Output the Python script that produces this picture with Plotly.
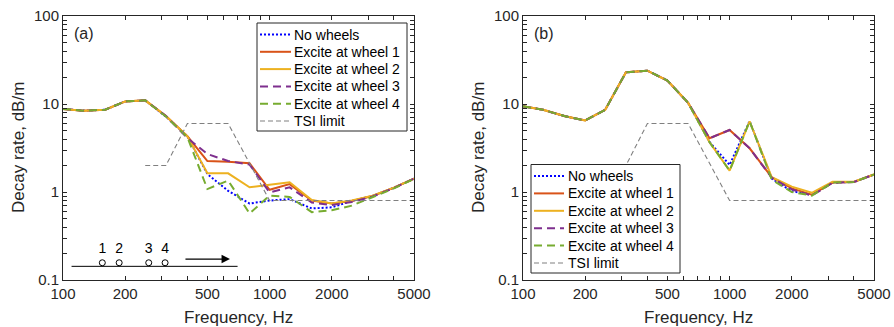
import plotly.graph_objects as go
import numpy as np

freq = [100, 125, 160, 200, 250, 315, 400, 500, 630, 800, 1000, 1250, 1600, 2000, 2500, 3150, 4000, 5000]

# Panel (a)
a_nowheels = [8.8, 8.4, 8.6, 10.7, 11.0, 7.2, 4.3, 1.6, 1.03, 0.74, 0.80, 0.83, 0.65, 0.67, 0.79, 0.90, 1.12, 1.42]
a_wheel1 = [8.8, 8.4, 8.6, 10.7, 11.0, 7.3, 4.3, 2.25, 2.2, 2.12, 1.06, 1.23, 0.80, 0.74, 0.79, 0.90, 1.12, 1.42]
a_wheel2 = [8.8, 8.4, 8.6, 10.7, 11.0, 7.3, 4.3, 1.63, 1.63, 1.13, 1.21, 1.29, 0.81, 0.74, 0.80, 0.91, 1.12, 1.42]
a_wheel3 = [8.8, 8.4, 8.6, 10.7, 11.0, 7.3, 4.1, 2.7, 2.25, 2.05, 0.99, 1.13, 0.76, 0.71, 0.77, 0.89, 1.11, 1.42]
a_wheel4 = [8.8, 8.4, 8.6, 10.7, 11.0, 7.2, 4.2, 1.08, 1.35, 0.57, 0.91, 0.88, 0.59, 0.62, 0.70, 0.88, 1.10, 1.41]

# Panel (b)
b_nowheels = [9.4, 8.6, 7.25, 6.5, 8.6, 22.9, 23.9, 18.5, 10.3, 3.7, 2.03, 6.4, 1.42, 1.02, 0.93, 1.28, 1.30, 1.58]
b_wheel1 = [9.4, 8.6, 7.25, 6.5, 8.6, 22.9, 23.9, 18.5, 10.3, 4.08, 5.07, 3.14, 1.47, 1.10, 0.93, 1.28, 1.30, 1.58]
b_wheel2 = [9.4, 8.6, 7.25, 6.5, 8.6, 22.9, 23.9, 18.5, 10.3, 3.67, 1.75, 6.36, 1.47, 1.15, 0.98, 1.31, 1.31, 1.58]
b_wheel3 = [9.4, 8.6, 7.25, 6.5, 8.6, 22.9, 23.9, 18.5, 10.3, 4.08, 5.07, 3.14, 1.45, 1.07, 0.91, 1.27, 1.30, 1.58]
b_wheel4 = [9.4, 8.6, 7.25, 6.5, 8.6, 22.9, 23.9, 18.5, 10.3, 3.67, 1.75, 6.36, 1.38, 1.00, 0.91, 1.28, 1.30, 1.58]

tsi_freq = [250, 315, 400, 630, 1000, 5000]
tsi_limit = [2, 2, 6, 6, 0.8, 0.8]

names = ["No wheels", "Excite at wheel 1", "Excite at wheel 2", "Excite at wheel 3", "Excite at wheel 4", "TSI limit"]

# inset (wheel positions) in panel (a)
wheel_labels = ["1", "2", "3", "4"]
wheel_freq = [155, 187, 260, 312]
wheel_y = 0.157
label_y = 0.22
rail_freq = [110, 700]
rail_y = [0.143, 0.143]
arrow_from, arrow_to, arrow_y = 385, 643, 0.173

styles = [
    dict(color="#0000FF", width=2, dash="2px,2px"),
    dict(color="#D95319", width=2, dash="solid"),
    dict(color="#EDB120", width=2, dash="solid"),
    dict(color="#7E2F8E", width=2, dash="8px,5px"),
    dict(color="#77AC30", width=2, dash="8px,5px"),
    dict(color="#808080", width=1.1, dash="5px,3px"),
]

TXT = "#262626"
FONT = "Liberation Sans, Arial, sans-serif"
W, H = 894, 327

fig = go.Figure()

def add_panel(series, xa, ya):
    for s, nm, st in zip(series, names[:5], styles[:5]):
        fig.add_trace(go.Scatter(x=freq, y=s, mode="lines", name=nm, line=st,
                                 xaxis=xa, yaxis=ya, showlegend=False))
    fig.add_trace(go.Scatter(x=tsi_freq, y=tsi_limit, mode="lines", name=names[5], line=styles[5],
                             xaxis=xa, yaxis=ya, showlegend=False))

add_panel([a_nowheels, a_wheel1, a_wheel2, a_wheel3, a_wheel4], "x", "y")
add_panel([b_nowheels, b_wheel1, b_wheel2, b_wheel3, b_wheel4], "x2", "y2")

# inset
fig.add_trace(go.Scatter(x=rail_freq, y=rail_y, mode="lines", line=dict(color="black", width=1),
                         showlegend=False, xaxis="x", yaxis="y", hoverinfo="skip"))
fig.add_trace(go.Scatter(x=wheel_freq, y=[wheel_y] * 4, mode="markers",
                         marker=dict(symbol="circle-open", size=6, color="black", line=dict(width=1)),
                         showlegend=False, xaxis="x", yaxis="y", hoverinfo="skip"))
fig.add_trace(go.Scatter(x=wheel_freq, y=[label_y] * 4, mode="text", text=wheel_labels,
                         textfont=dict(size=14, color="black", family=FONT),
                         showlegend=False, xaxis="x", yaxis="y", hoverinfo="skip"))

xdomA = [63 / W, 414 / W]
xdomB = [523 / W, 874 / W]
ydom = [1 - 280 / H, 1 - 16 / H]

xt = [100, 200, 300, 400, 500, 600, 700, 800, 900, 1000, 2000, 3000, 4000, 5000]
xtt = ["100", "200", "", "", "500", "", "", "", "", "1000", "2000", "", "", "5000"]
yt, ytt = [], []
for dec in [0.1, 1, 10]:
    for m in range(1, 10):
        yt.append(m * dec)
        ytt.append(("0.1" if dec == 0.1 else str(int(dec))) if m == 1 else "")
yt.append(100)
ytt.append("100")

axcommon = dict(type="log", ticks="inside", ticklen=4, tickcolor=TXT, showline=True, linecolor=TXT,
                linewidth=1, mirror="ticks", showgrid=False, zeroline=False, automargin=False,
                tickfont=dict(size=15, color=TXT, family=FONT))

shapes = []
annotations = []

def px(x):
    return x / W

def py(y):
    return 1 - y / H

# axis titles
for x0, x1 in [(63, 414), (523, 874)]:
    annotations.append(dict(text="Frequency, Hz", x=px((x0 + x1) / 2), y=py(317), xref="paper", yref="paper",
                            xanchor="center", yanchor="middle", showarrow=False,
                            font=dict(size=17, color=TXT, family=FONT)))
    annotations.append(dict(text="Decay rate, dB/m", x=px(x0 - 45), y=py(148), xref="paper", yref="paper",
                            xanchor="center", yanchor="middle", showarrow=False, textangle=-90,
                            font=dict(size=17, color=TXT, family=FONT)))

# panel labels
annotations.append(dict(text="(a)", x=px(72), y=py(33), xref="paper", yref="paper", xanchor="left",
                        yanchor="middle", showarrow=False, font=dict(size=16, color=TXT, family=FONT)))
annotations.append(dict(text="(b)", x=px(532), y=py(33), xref="paper", yref="paper", xanchor="left",
                        yanchor="middle", showarrow=False, font=dict(size=16, color=TXT, family=FONT)))

# arrow of the inset
annotations.append(dict(text="", x=np.log10(arrow_to), y=np.log10(arrow_y), ax=np.log10(arrow_from),
                        ay=np.log10(arrow_y), xref="x", yref="y", axref="x", ayref="y", showarrow=True,
                        arrowhead=2, arrowsize=1.4, arrowwidth=1.2, arrowcolor="black"))

# legends (drawn manually to match row spacing)
def legend(box, first_row, step, sx0, sx1, tx):
    bx0, by0, bx1, by1 = box
    shapes.append(dict(type="rect", xref="paper", yref="paper", x0=px(bx0), x1=px(bx1), y0=py(by1), y1=py(by0),
                       line=dict(color=TXT, width=1), fillcolor="white", layer="above"))
    for i, (nm, st) in enumerate(zip(names, styles)):
        yy = first_row + i * step
        shapes.append(dict(type="line", xref="paper", yref="paper", x0=px(sx0), x1=px(sx1), y0=py(yy), y1=py(yy),
                           line=dict(color=st["color"], width=st["width"], dash=st["dash"]), layer="above"))
        annotations.append(dict(text=nm, x=px(tx), y=py(yy), xref="paper", yref="paper", xanchor="left",
                                yanchor="middle", showarrow=False, font=dict(size=14, color="black", family=FONT)))

legend((257, 23, 407, 131), 34.5, 17.3, 260, 291, 292)
legend((531, 164.5, 680, 273), 176, 17.4, 534, 564, 566)

fig.update_layout(
    width=W, height=H, margin=dict(l=0, r=0, t=0, b=0),
    paper_bgcolor="white", plot_bgcolor="white",
    font=dict(family=FONT, color=TXT),
    xaxis=dict(axcommon, domain=xdomA, range=[2, np.log10(5000)], tickvals=xt, ticktext=xtt, anchor="y"),
    yaxis=dict(axcommon, domain=ydom, range=[-1, 2], tickvals=yt, ticktext=ytt, anchor="x"),
    xaxis2=dict(axcommon, domain=xdomB, range=[2, np.log10(5000)], tickvals=xt, ticktext=xtt, anchor="y2"),
    yaxis2=dict(axcommon, domain=ydom, range=[-1, 2], tickvals=yt, ticktext=ytt, anchor="x2"),
    showlegend=False,
    shapes=shapes,
    annotations=annotations,
)

fig.write_html("out.html")
